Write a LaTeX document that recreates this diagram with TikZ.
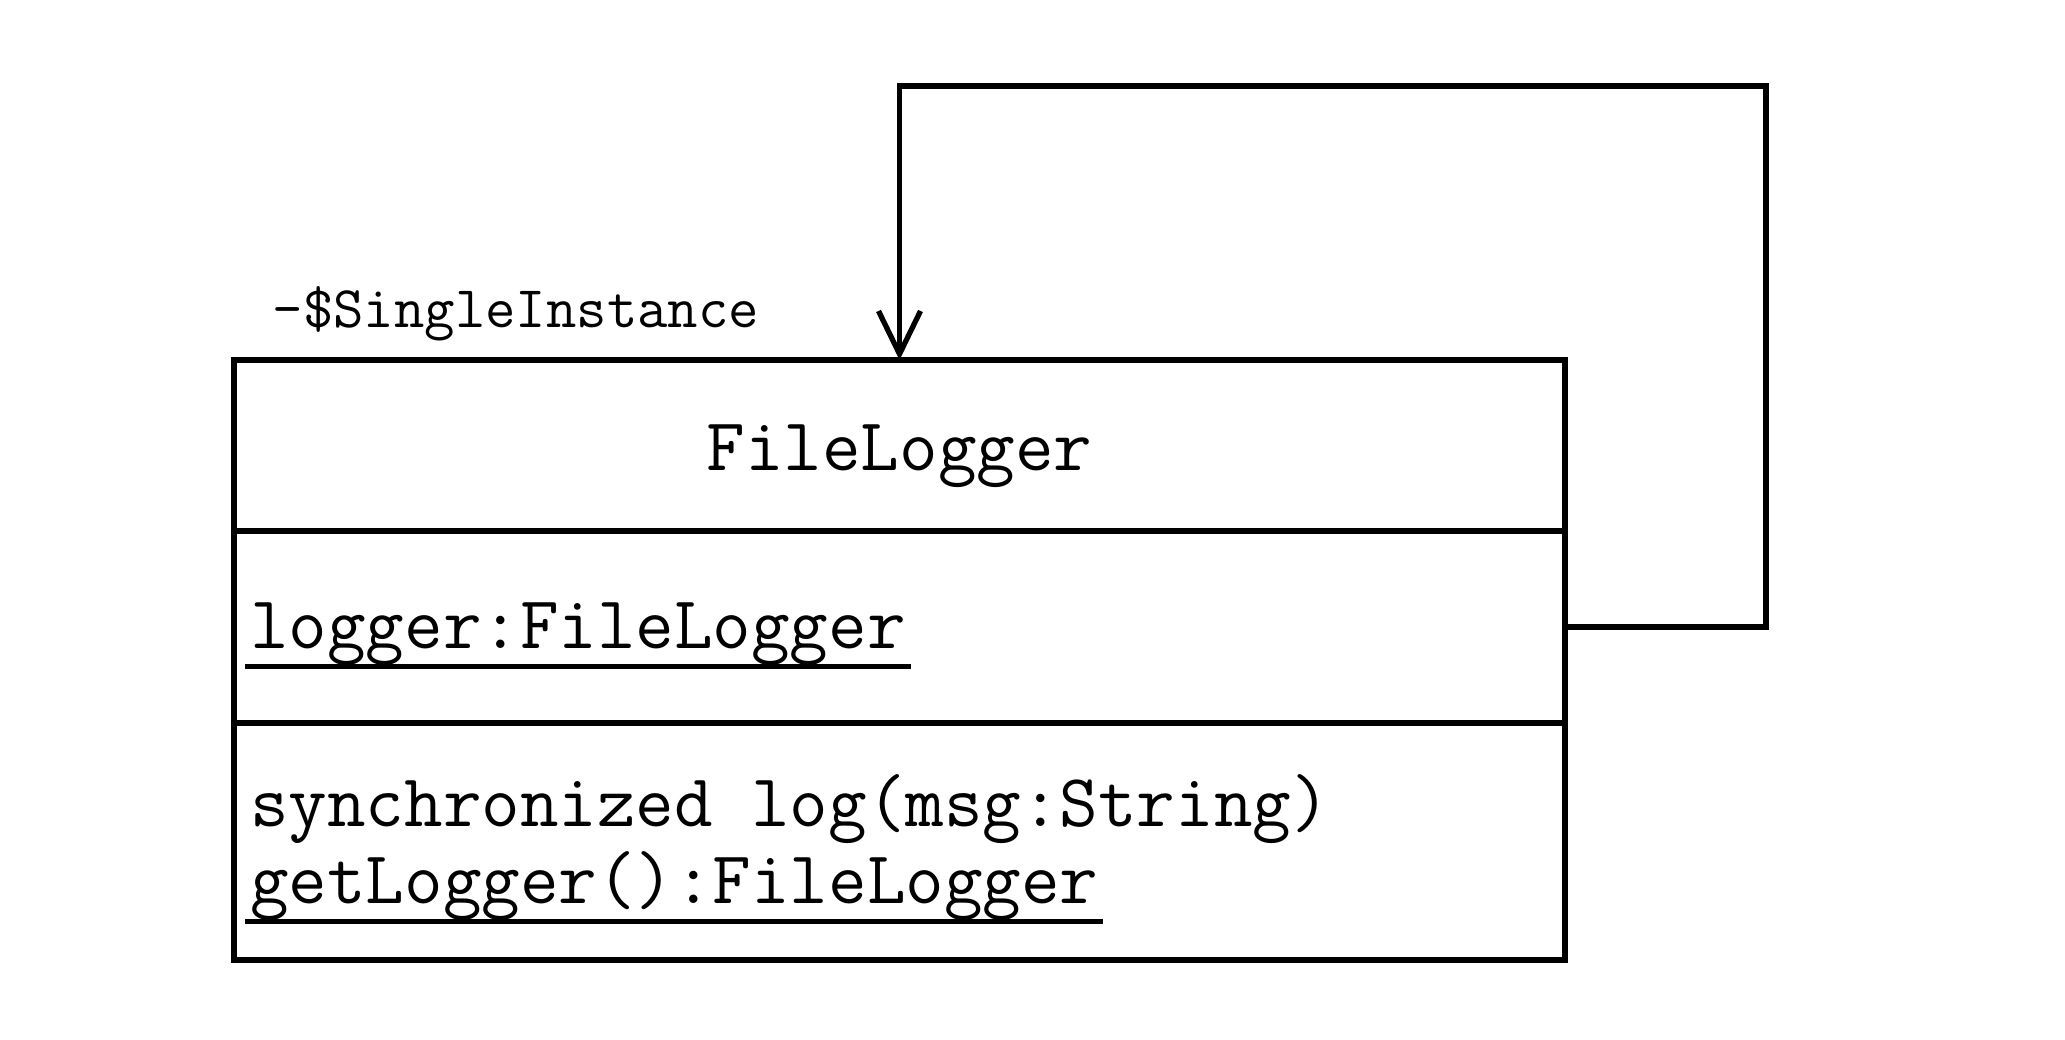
\documentclass[tikz,border=0pt]{standalone}
\usepackage{fontspec}
\usepackage{tikz}
\usetikzlibrary{arrows.meta,positioning}

\newsavebox{\memberbox}
\newcommand{\umember}[1]{\sbox{\memberbox}{#1}\rlap{\kern-0.05cm\rule[-2.05mm]{\dimexpr\wd\memberbox+0.1cm\relax}{0.5mm}}\usebox{\memberbox}}

\begin{document}
\begin{tikzpicture}[line width=1.5pt, every node/.style={font=\ttfamily\fontsize{21.3}{22}\selectfont}]
  \useasboundingbox (0,0) rectangle (20.65,-10.39);
  \node[draw,outer sep=0,minimum width=13.31cm,minimum height=1.71cm,anchor=north west] (title) at (2.34,-3.60) {};
  \node[draw,outer sep=0,minimum width=13.31cm,minimum height=1.92cm,below=0cm of title] (attrs) {};
  \node[draw,outer sep=0,minimum width=13.31cm,minimum height=2.37cm,below=0cm of attrs] (ops) {};
  \node[anchor=base,inner sep=0] (name) at (8.995,-4.70) {FileLogger};
  \node[anchor=base west,inner sep=0] (attr) at (2.476,-6.48) {\umember{logger:FileLogger}};
  \node[anchor=base west,inner sep=0] (op1) at (2.476,-8.26) {synchronized log(msg:String)};
  \node[anchor=base west,inner sep=0] (op2) at (2.476,-9.03) {\umember{getLogger():FileLogger}};
  \node[anchor=base west,inner sep=0,font=\ttfamily\fontsize{16.8}{17}\selectfont] (role) at (2.70,-3.27) {-\$SingleInstance};
  \coordinate (bend) at (17.66,-0.86);
  \draw[-{Straight Barb[length=4.3mm,width=4.2mm]}] (attrs.east) -| (bend) -| (title.north);
\end{tikzpicture}
\end{document}
